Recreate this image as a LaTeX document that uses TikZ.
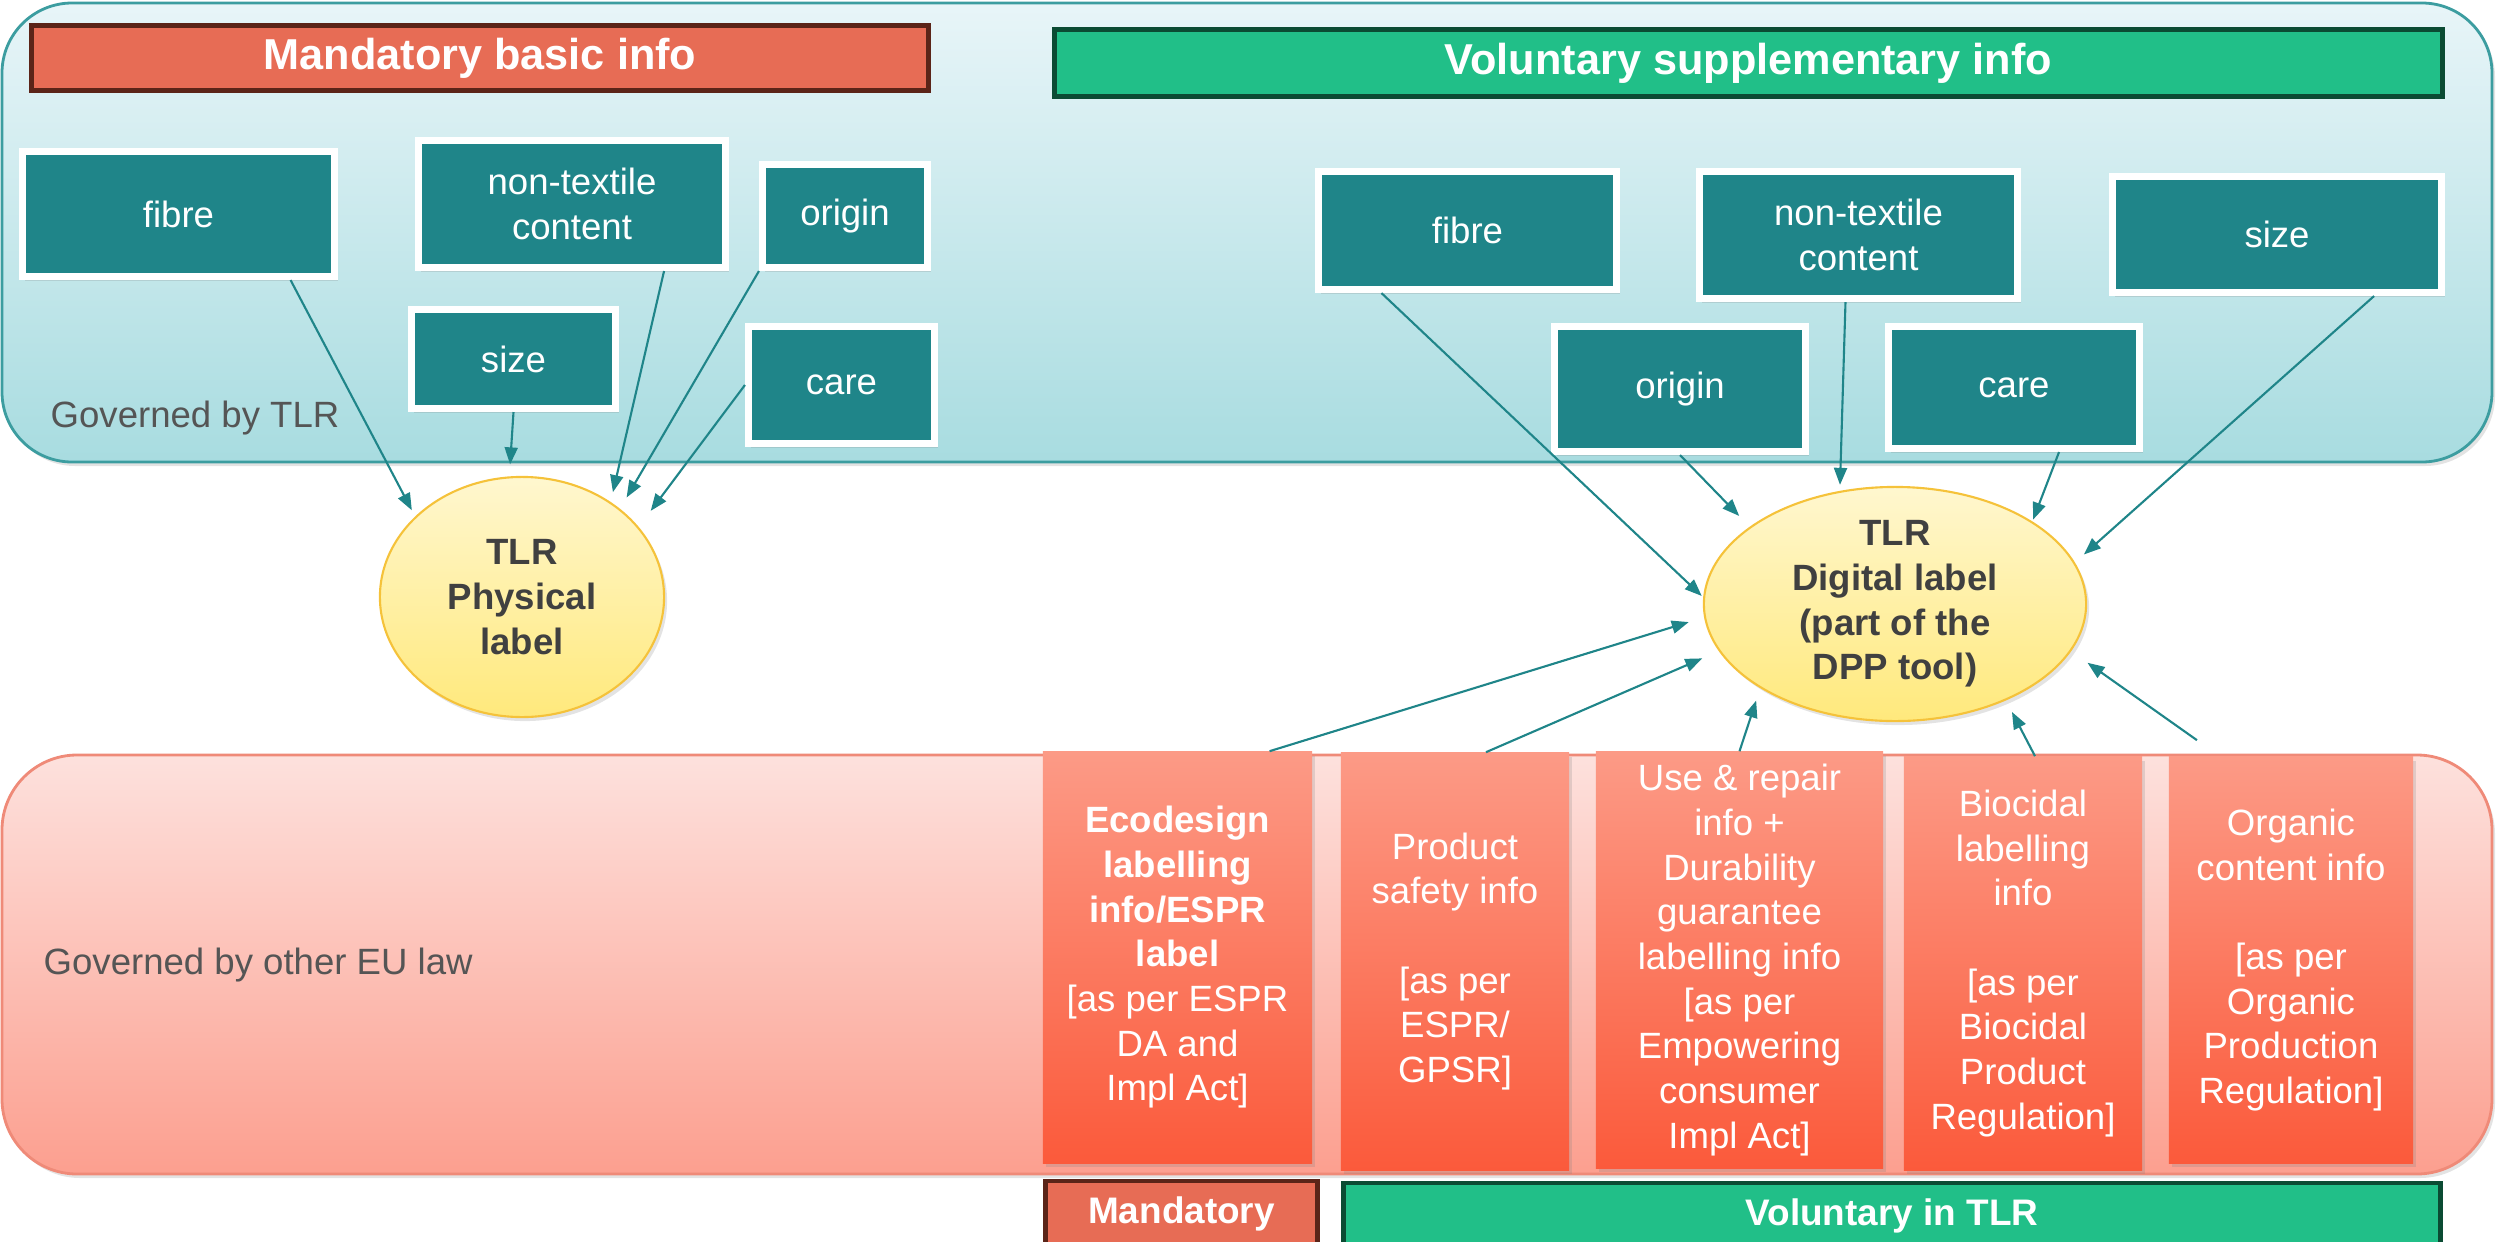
\documentclass[tikz,border=0pt]{standalone}
\usepackage{fontspec}
\setmainfont{Liberation Sans}
\usetikzlibrary{arrows.meta,shadows,shapes.geometric}

\definecolor{tealbox}{RGB}{31,133,137}
\definecolor{tealtop}{RGB}{232,245,248}
\definecolor{tealbot}{RGB}{168,220,224}
\definecolor{tealline}{RGB}{60,157,160}
\definecolor{pinktop}{RGB}{253,225,221}
\definecolor{pinkbot}{RGB}{252,159,143}
\definecolor{pinkline}{RGB}{239,138,120}
\definecolor{redtop}{RGB}{252,154,134}
\definecolor{redbot}{RGB}{251,90,59}
\definecolor{mandfill}{RGB}{231,108,85}
\definecolor{mandline}{RGB}{91,36,24}
\definecolor{volfill}{RGB}{33,191,136}
\definecolor{volline}{RGB}{11,75,51}
\definecolor{yeltop}{RGB}{255,247,207}
\definecolor{yelbot}{RGB}{255,233,124}
\definecolor{yelline}{RGB}{245,194,58}
\definecolor{labtext}{RGB}{64,64,64}
\definecolor{govgray}{RGB}{85,85,85}

\begin{document}
\begin{tikzpicture}[x=0.01cm, y=-0.01cm,
    shd/.style={drop shadow={shadow xshift=0.03cm, shadow yshift=-0.04cm, opacity=0.22}},
    infobox/.style={draw=white, line width=2pt, fill=tealbox, text=white, align=center,
        font=\fontsize{10.4}{12.7}\selectfont, shd},
    lawbox/.style={top color=redtop, bottom color=redbot, text=white, align=center,
        font=\fontsize{10.4}{12.7}\selectfont, shd},
    mandhead/.style={draw=mandline, line width=1.4pt, fill=mandfill, text=white, font=\bfseries\fontsize{12.3}{14}\selectfont},
    volhead/.style={draw=volline, line width=1.4pt, fill=volfill, text=white, font=\bfseries\fontsize{12.3}{14}\selectfont},
    footfont/.style={font=\bfseries\fontsize{10.5}{12}\selectfont},
    lbl/.style={ellipse, draw=yelline, line width=0.6pt, top color=yeltop, bottom color=yelbot, inner sep=0pt, shd},
    lbltext/.style={align=center, text=labtext, font=\bfseries\fontsize{10.4}{12.7}\selectfont},
    govtext/.style={text=govgray, font=\fontsize{10.4}{12.7}\selectfont, inner sep=0pt},
    arr/.style={draw=tealbox, line width=0.6pt, -{Triangle[length=0.17cm,width=0.13cm]}}]

    \useasboundingbox (0,0) rectangle (2496,1242);
    \clip (0,0) rectangle (2496,1242);

    % the two areas
    \draw[draw=tealline, line width=0.8pt, top color=tealtop, bottom color=tealbot, rounded corners=0.7cm, shd] (2,3) rectangle (2492,462);
    \draw[draw=pinkline, line width=0.8pt, top color=pinktop, bottom color=pinkbot, rounded corners=0.75cm, shd] (2,755) rectangle (2492,1174);
    \node[govtext, anchor=base west] (govTLR) at (50,427) {Governed by TLR};
    \node[govtext, anchor=west] (govEU) at (43,965) {Governed by other EU law};

    \node[mandhead, minimum width=8.97cm, minimum height=0.65cm] (mandHead) at (480,58) {Mandatory basic info};
    \node[volhead, minimum width=13.88cm, minimum height=0.67cm] (volHead) at (1748.5,63) {Voluntary supplementary info};

    % physical label side
    \node[infobox, minimum width=3.12cm, minimum height=1.25cm] (fibreL) at (178.5,214) {fibre};
    \node[infobox, minimum width=3.07cm, minimum height=1.27cm] (ntL) at (572,204) {non-textile\\content};
    \node[infobox, minimum width=1.65cm, minimum height=1.03cm] (originL) at (845,216) {origin};
    \node[infobox, minimum width=2.04cm, minimum height=0.99cm] (sizeL) at (513.5,359) {size};
    \node[infobox, minimum width=1.86cm, minimum height=1.17cm] (careL) at (841.5,385) {care};
    \node[lbl, minimum width=2.84cm, minimum height=2.40cm, label={[lbltext]center:{TLR\\Physical\\label}}] (physLbl) at (522,597) {};

    % digital label side
    \node[infobox, minimum width=2.98cm, minimum height=1.18cm] (fibreR) at (1467.5,230.5) {fibre};
    \node[infobox, minimum width=3.18cm, minimum height=1.27cm] (ntR) at (1858.5,235) {non-textile\\content};
    \node[infobox, minimum width=3.29cm, minimum height=1.16cm] (sizeR) at (2277,234.5) {size};
    \node[infobox, minimum width=2.51cm, minimum height=1.25cm] (originR) at (1680,389) {origin};
    \node[infobox, minimum width=2.51cm, minimum height=1.22cm] (careR) at (2014,387.5) {care};
    \node[lbl, minimum width=3.82cm, minimum height=2.34cm, label={[lbltext]center:{TLR\\Digital label\\(part of the\\DPP tool)}}] (digLbl) at (1895,604) {};

    % other EU law
    \node[lawbox, minimum width=2.69cm, minimum height=4.11cm] (ecoBox) at (1177.5,957.5)
        {\textbf{Ecodesign}\\\textbf{labelling}\\\textbf{info/ESPR}\\\textbf{label}\\{}[as per ESPR\\DA and\\Impl Act]};
    \node[lawbox, minimum width=2.28cm, minimum height=4.17cm] (safeBox) at (1455,961.5)
        {Product\\safety info\\\mbox{}\\{}[as per\\ESPR/\\GPSR]};
    \node[lawbox, minimum width=2.87cm, minimum height=4.16cm] (useBox) at (1739.5,960)
        {Use \& repair\\info +\\Durability\\guarantee\\labelling info\\{}[as per\\Empowering\\consumer\\Impl Act]};
    \node[lawbox, minimum width=2.38cm, minimum height=4.13cm] (bioBox) at (2023,963.5)
        {Biocidal\\labelling\\info\\\mbox{}\\{}[as per\\Biocidal\\Product\\Regulation]};
    \node[lawbox, minimum width=2.44cm, minimum height=4.06cm] (orgBox) at (2291,960)
        {Organic\\content info\\\mbox{}\\{}[as per\\Organic\\Production\\Regulation]};

    \node[mandhead, footfont, minimum width=2.72cm, minimum height=0.66cm] (mandFoot) at (1181.5,1214) {Mandatory};
    \node[volhead, footfont, minimum width=10.97cm, minimum height=0.66cm] (volFoot) at (1892,1216) {Voluntary in TLR};

    % arrows
    \draw[arr, shorten >=0.07cm] ([xshift=1.12cm]fibreL.south) -- (physLbl.143);
    \draw[arr, shorten >=0.12cm] (sizeL.south) -- (physLbl.96);
    \draw[arr, shorten >=0.10cm] ([xshift=0.92cm]ntL.south) -- (physLbl.47);
    \draw[arr, shorten >=0.13cm] (originL.south west) -- (physLbl.42.5);
    \draw[arr, shorten >=0.20cm] (careL.west) -- (physLbl.31.7);

    \draw[arr, shorten >=0.02cm] ([xshift=-0.86cm]fibreR.south) -- (digLbl.178);
    \draw[arr, shorten >=0.15cm] (originR.south) -- (digLbl.152);
    \draw[arr, shorten >=0.06cm] ([xshift=-0.13cm]ntR.south) -- (digLbl.116);
    \draw[arr, shorten >=0.02cm] ([xshift=0.45cm]careR.south) -- (digLbl.31.5);
    \draw[arr, shorten >=0.12cm] ([xshift=0.97cm]sizeR.south) -- (digLbl.13);

    \draw[arr, shorten >=0.16cm] ([xshift=0.92cm]ecoBox.north) -- (digLbl.184);
    \draw[arr, shorten >=0.18cm] ([xshift=0.31cm]safeBox.north) -- (digLbl.195);
    \draw[arr, shorten >=0.13cm] (useBox.north) -- (digLbl.212);
    \draw[arr, shorten >=0.13cm] ([xshift=0.12cm]bioBox.north) -- (digLbl.-41.6);
    \draw[arr, shorten >=0.20cm] ([xshift=-0.94cm,yshift=0.16cm]orgBox.north) -- (digLbl.-15.4);
\end{tikzpicture}
\end{document}
